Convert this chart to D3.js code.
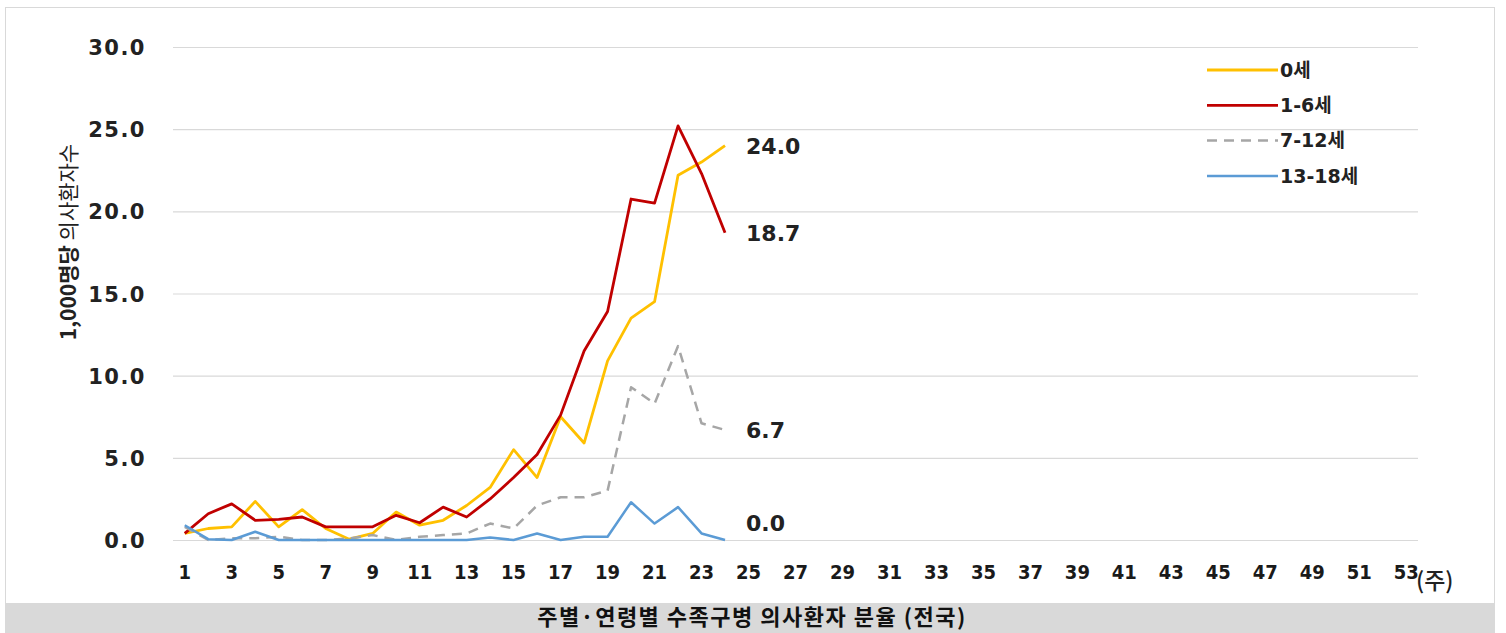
<!DOCTYPE html>
<html>
<head>
<meta charset="utf-8">
<script src="https://cdn.jsdelivr.net/npm/d3@7"></script>
<style>
  html, body { margin: 0; padding: 0; background: #fff; }
  svg { display: block; }
</style>
</head>
<body>
<svg id="chart" width="1506" height="633"></svg>
<script>
// Weekly hand-foot-mouth disease suspected patients per 1,000, by age group
const weeks = d3.range(1, 54);
const tickWeeks = d3.range(1, 54, 2);
const yTicks = [0, 5, 10, 15, 20, 25, 30];

const seriesNames = ["0세", "1-6세", "7-12세", "13-18세"];
const age0 = [0.4, 0.7, 0.8, 2.35, 0.8, 1.85, 0.7, 0.05, 0.4, 1.7, 0.9, 1.2, 2.1, 3.2, 5.5, 3.8, 7.5, 5.9, 10.9, 13.5, 14.5, 22.2, 23.0, 24.0];
const age1to6 = [0.4, 1.6, 2.2, 1.2, 1.25, 1.4, 0.8, 0.8, 0.8, 1.5, 1.05, 2.0, 1.4, 2.5, 3.8, 5.2, 7.6, 11.5, 13.9, 20.75, 20.5, 25.2, 22.3, 18.7];
const age7to12 = [0.8, 0.0, 0.1, 0.1, 0.2, 0.0, 0.0, 0.1, 0.3, 0.0, 0.2, 0.3, 0.4, 1.0, 0.7, 2.1, 2.6, 2.6, 3.0, 9.3, 8.3, 11.8, 7.1, 6.7];
const age13to18 = [0.9, 0.05, 0.0, 0.5, 0.0, 0.0, 0.0, 0.0, 0.0, 0.0, 0.0, 0.0, 0.0, 0.15, 0.0, 0.4, 0.0, 0.2, 0.2, 2.3, 1.0, 2.0, 0.4, 0.0];

const colors = ["#FFC000", "#C00000", "#A6A6A6", "#5B9BD5"];
const dashes = [null, null, "10,7", null];
const widths = [2.8, 2.8, 2.5, 2.5];
const seriesValues = [age0, age1to6, age7to12, age13to18];

const svg = d3.select("#chart");

// frame and caption band
svg.append("rect").attr("x", 5.5).attr("y", 7.5).attr("width", 1489).attr("height", 630)
  .attr("fill", "#fff").attr("stroke", "#D9D9D9");
svg.append("rect").attr("x", 5).attr("y", 603).attr("width", 1490).attr("height", 30)
  .attr("fill", "#D9D9D9");
svg.append("text").attr("x", 752).attr("y", 625).attr("text-anchor", "middle")
  .attr("font-family", "'Noto Sans CJK KR', sans-serif").attr("font-weight", 700)
  .attr("font-size", 22).attr("letter-spacing", 1.5).attr("fill", "#111")
  .text("주별·연령별 수족구병 의사환자 분율 (전국)");

const x = d3.scaleBand().domain(weeks).range([173, 1418]);
const y = d3.scaleLinear().domain([0, 30]).range([540, 47]);
const cx = w => x(w) + x.bandwidth() / 2;

// horizontal gridlines with value labels
const yAxis = d3.axisLeft(y).tickValues(yTicks).tickSize(-(1418 - 173)).tickPadding(27)
  .tickFormat(d3.format(".1f"));
const gy = svg.append("g").attr("transform", "translate(173,0)").call(yAxis);
gy.select(".domain").remove();
gy.selectAll(".tick line").attr("stroke", "#D9D9D9").attr("stroke-width", 1.2);
gy.selectAll(".tick text")
  .attr("font-family", "'DejaVu Sans', sans-serif").attr("font-weight", 700)
  .attr("font-size", 21).attr("fill", "#222").attr("letter-spacing", 1.5)
  .attr("dy", "0.36em");

// week axis
const xAxis = d3.axisBottom(x).tickValues(tickWeeks).tickSize(0).tickPadding(0);
const gx = svg.append("g").attr("transform", "translate(0,540)").call(xAxis);
gx.select(".domain").remove();
gx.selectAll(".tick text")
  .attr("font-family", "'DejaVu Sans Condensed', 'DejaVu Sans', sans-serif")
  .attr("font-stretch", "condensed").attr("font-weight", 700)
  .attr("font-size", 20).attr("fill", "#1a1a1a").attr("y", 39).attr("dy", 0);

svg.append("text").attr("x", 1416).attr("y", 589)
  .attr("font-family", "'Noto Sans CJK KR', sans-serif").attr("font-weight", 500)
  .attr("font-size", 23).attr("fill", "#222").text("(주)");

// y axis title
const yTitle = svg.append("text").attr("transform", "translate(76,242) rotate(-90)")
  .attr("text-anchor", "middle").attr("font-size", 21).attr("fill", "#222")
  .attr("font-family", "'Noto Sans CJK KR', sans-serif");
yTitle.append("tspan").attr("font-weight", 700).text("1,000명당 ");
yTitle.append("tspan").attr("font-weight", 400).text("의사환자수");

// series lines
const line = d3.line().x((d, i) => cx(weeks[i])).y(d => y(d));
seriesValues.forEach((vals, k) => {
  svg.append("path").datum(vals)
    .attr("fill", "none").attr("stroke", colors[k]).attr("stroke-width", widths[k])
    .attr("stroke-dasharray", dashes[k]).attr("stroke-linejoin", "round")
    .attr("d", line);
});

// end-of-series value labels
seriesValues.forEach(vals => {
  const i = vals.length - 1;
  svg.append("text").attr("x", cx(weeks[i]) + 21)
    .attr("y", Math.min(y(vals[i]), y(1))).attr("dy", "0.36em")
    .attr("font-family", "'DejaVu Sans', sans-serif").attr("font-weight", 700)
    .attr("font-size", 22).attr("fill", "#222").text(vals[i].toFixed(1));
});

// legend
const legend = svg.append("g");
seriesNames.forEach((name, k) => {
  const ly = 70 + k * 35.3;
  legend.append("line").attr("x1", 1207).attr("x2", 1278).attr("y1", ly).attr("y2", ly)
    .attr("stroke", colors[k]).attr("stroke-width", widths[k])
    .attr("stroke-dasharray", dashes[k]);
  legend.append("text").attr("x", 1280).attr("y", ly).attr("dy", "0.36em")
    .attr("font-family", "'DejaVu Sans', 'Noto Sans CJK KR', sans-serif").attr("font-weight", 700)
    .attr("font-size", 19).attr("fill", "#222").text(name);
});
</script>
</body>
</html>
